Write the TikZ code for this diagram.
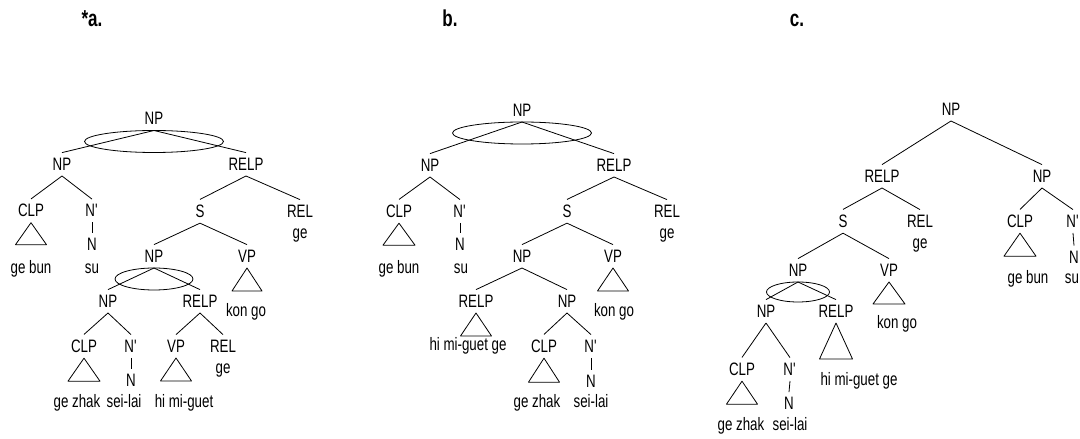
\documentclass[tikz,border=0pt]{standalone}
\usepackage{fontspec}
\setmainfont[FakeStretch=0.74]{Liberation Sans}
\newcommand\labsize{\fontsize{18bp}{21bp}\selectfont}
\newcommand\titsize{\fontsize{23bp}{27bp}\selectfont\bfseries}
\newcommand\tri[3]{\draw[br] (#1.south) -- ++({-#2/2},#3) -- ++(#2,0) -- cycle;}
\newcommand\ovl[3]{\draw[br] ([yshift=-#3 bp]#1.south) ellipse [x radius=#2 bp, y radius=#3 bp];}
\newcommand\Nb{N\textquotesingle}
\begin{document}
\begin{tikzpicture}[x=1bp,y=-1bp,
  lab/.style={anchor=base, inner xsep=1bp, inner ysep=5.5bp, outer sep=0pt, font=\labsize},
  word/.style={anchor=base, inner sep=0pt, font=\labsize},
  br/.style={line width=0.8bp, line join=round},
  title/.style={anchor=base, inner sep=0pt, font=\titsize}]
\useasboundingbox (0,0) rectangle (1080,439);
% titles
\node[title] (ta) at (92,27) {*a.};
\node[title] (tb) at (450,27) {b.};
\node[title] (tc) at (797,27) {c.};
% ---------- tree a ----------
\node[lab] (aR) at (154,125) {NP};
\node[lab] (aNP1) at (62,170.5) {NP};
\node[lab] (aRELP) at (246,170.5) {RELP};
\node[lab] (aCLP1) at (31,217) {CLP};
\node[lab] (aNb1) at (92,217) {\Nb};
\node[lab] (aN1) at (92,250.5) {N};
\node[word] (aw1) at (31,274) {ge bun};
\node[word] (aw2) at (92,274) {su};
\node[lab] (aS) at (200,217.5) {S};
\node[lab] (aREL) at (300,217.5) {REL};
\node[word] (aw3) at (300,238.5) {ge};
\node[lab] (aNP2) at (154,262.5) {NP};
\node[lab] (aVP) at (247,262.5) {VP};
\node[word] (aw4) at (246,317) {kon go};
\node[lab] (aNP3) at (108,307.5) {NP};
\node[lab] (aRELP2) at (200,307.5) {RELP};
\node[lab] (aCLP2) at (84,352.5) {CLP};
\node[lab] (aNb2) at (131,352.5) {\Nb};
\node[lab] (aN2) at (131,386.5) {N};
\node[lab] (aVP2) at (176,352.5) {VP};
\node[lab] (aREL2) at (223,352.5) {REL};
\node[word] (aw5) at (223,373.5) {ge};
\node[word] (aw6) at (77,408) {ge zhak};
\node[word] (aw7) at (124,408) {sei-lai};
\node[word] (aw8) at (184,408) {hi mi-guet};
\foreach \p/\c in {aR/aNP1,aR/aRELP,aNP1/aCLP1,aNP1/aNb1,aNb1/aN1,aRELP/aS,aRELP/aREL,
  aS/aNP2,aS/aVP,aNP2/aNP3,aNP2/aRELP2,aNP3/aCLP2,aNP3/aNb2,aNb2/aN2,aRELP2/aVP2,aRELP2/aREL2}
  \draw[br] (\p.south) -- (\c.north);
\tri{aCLP1}{31}{22}
\tri{aVP}{30}{23}
\tri{aCLP2}{32}{23}
\tri{aVP2}{31}{23}
\ovl{aR}{69.5}{11}
\ovl{aNP2}{39}{11}
% ---------- tree b ----------
\node[lab] (bR) at (522,116.5) {NP};
\node[lab] (bNP1) at (430,171.5) {NP};
\node[lab] (bRELP) at (614,171.5) {RELP};
\node[lab] (bCLP1) at (399,217.5) {CLP};
\node[lab] (bNb1) at (460,217.5) {\Nb};
\node[lab] (bN1) at (460,250.5) {N};
\node[word] (bw1) at (399,274) {ge bun};
\node[word] (bw2) at (461,274) {su};
\node[lab] (bS) at (567,217.5) {S};
\node[lab] (bREL) at (667,217.5) {REL};
\node[word] (bw3) at (667,238.5) {ge};
\node[lab] (bNP2) at (522,262.5) {NP};
\node[lab] (bVP) at (613,262.5) {VP};
\node[word] (bw4) at (614,317) {kon go};
\node[lab] (bRELP2) at (476,307.5) {RELP};
\node[word] (bw5) at (468,351) {hi mi-guet ge};
\node[lab] (bNP3) at (567,307.5) {NP};
\node[lab] (bCLP2) at (544,352.5) {CLP};
\node[lab] (bNb2) at (591,352.5) {\Nb};
\node[lab] (bN2) at (591,387.5) {N};
\node[word] (bw6) at (537,408) {ge zhak};
\node[word] (bw7) at (591,408) {sei-lai};
\foreach \p/\c in {bR/bNP1,bR/bRELP,bNP1/bCLP1,bNP1/bNb1,bNb1/bN1,bRELP/bS,bRELP/bREL,
  bS/bNP2,bS/bVP,bNP2/bRELP2,bNP2/bNP3,bNP3/bCLP2,bNP3/bNb2,bNb2/bN2}
  \draw[br] (\p.south) -- (\c.north);
\tri{bCLP1}{32}{22}
\tri{bVP}{31}{23}
\tri{bRELP2}{31}{23}
\tri{bCLP2}{31}{24}
\ovl{bR}{69.5}{11}
% ---------- tree c ----------
\node[lab] (cR) at (951,115.5) {NP};
\node[lab] (cRELP) at (882,182.5) {RELP};
\node[lab] (cNP1) at (1042,182.5) {NP};
\node[lab] (cS) at (843,227.5) {S};
\node[lab] (cREL) at (920,227.5) {REL};
\node[word] (cw1) at (920,248.5) {ge};
\node[lab] (cCLP1) at (1020,227.5) {CLP};
\node[lab] (cNb1) at (1073,227.5) {\Nb};
\node[lab] (cN1) at (1074,263.5) {N};
\node[word] (cw2) at (1028,284) {ge bun};
\node[word] (cw3) at (1072,284) {su};
\node[lab] (cNP2) at (798,276.5) {NP};
\node[lab] (cVP) at (889,276.5) {VP};
\node[word] (cw4) at (897,329) {kon go};
\node[lab] (cNP3) at (766,317.5) {NP};
\node[lab] (cRELP2) at (836,317.5) {RELP};
\node[word] (cw5) at (859,386) {hi mi-guet ge};
\node[lab] (cCLP2) at (742,375.5) {CLP};
\node[lab] (cNb2) at (790,375.5) {\Nb};
\node[lab] (cN2) at (789,410) {N};
\node[word] (cw6) at (741,431) {ge zhak};
\node[word] (cw7) at (790,431) {sei-lai};
\foreach \p/\c in {cR/cRELP,cR/cNP1,cRELP/cS,cRELP/cREL,cNP1/cCLP1,cNP1/cNb1,cNb1/cN1,
  cS/cNP2,cS/cVP,cNP2/cNP3,cNP2/cRELP2,cNP3/cCLP2,cNP3/cNb2,cNb2/cN2}
  \draw[br] (\p.south) -- (\c.north);
\tri{cCLP1}{32}{23}
\tri{cVP}{32}{22}
\tri{cRELP2}{33}{36}
\tri{cCLP2}{31}{23}
\ovl{cNP2}{31.5}{10}
\end{tikzpicture}
\end{document}
